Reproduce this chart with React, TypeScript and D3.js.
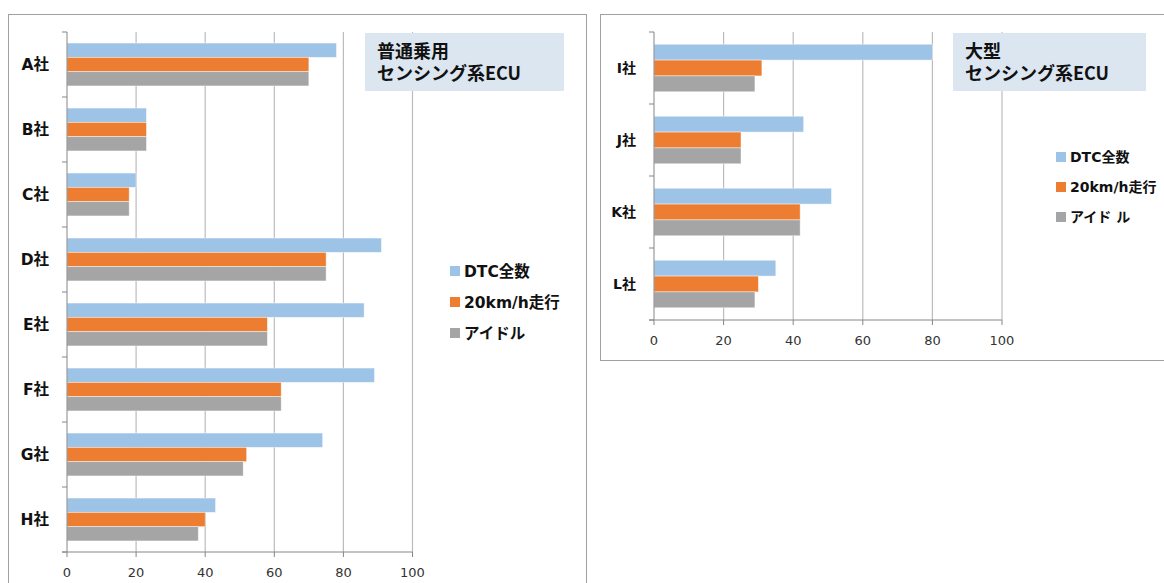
import React from "react";
import * as d3 from "d3";

const seriesNames = ["DTC全数", "20km/h走行", "アイドル"];
const seriesNamesRight = ["DTC全数", "20km/h走行", "アイド ル"];
const colors = ["#9dc3e6", "#ed7d31", "#a5a5a5"];

const leftCompanies = ["A社", "B社", "C社", "D社", "E社", "F社", "G社", "H社"];
const leftDtc = [78, 23, 20, 91, 86, 89, 74, 43];
const leftRun = [70, 23, 18, 75, 58, 62, 52, 40];
const leftIdle = [70, 23, 18, 75, 58, 62, 51, 38];

const rightCompanies = ["I社", "J社", "K社", "L社"];
const rightDtc = [80, 43, 51, 35];
const rightRun = [31, 25, 42, 30];
const rightIdle = [29, 25, 42, 29];

const xTicks = [0, 20, 40, 60, 80, 100];

const latin = "'DejaVu Sans', 'Noto Sans CJK JP', sans-serif";
const cjk = "'Noto Sans CJK JP', 'DejaVu Sans', sans-serif";

interface PanelProps {
  companies: string[];
  values: number[][];
  names: string[];
  frame: { x: number; y: number; w: number; h: number };
  plot: { left: number; right: number; top: number; bottom: number };
  labelSize: number;
  title: string[];
  titleBox: { x: number; y: number; w: number; h: number };
  legend: { x: number; y: number; step: number; size: number; box: number };
}

const Panel: React.FC<PanelProps> = ({ companies, values, names, frame, plot, labelSize, title, titleBox, legend }) => {
  const x = d3.scaleLinear().domain([0, 100]).range([plot.left, plot.right]);
  const y = d3.scaleBand<string>().domain(companies).range([plot.top, plot.bottom]);
  const bw = y.bandwidth();
  const inner = d3.scaleBand<number>().domain(d3.range(names.length)).range([bw * 0.17, bw * 0.83]);
  const bounds = d3.range(companies.length + 1).map((i) => plot.top + i * bw);

  return (
    <g>
      <rect x={frame.x + 0.5} y={frame.y + 0.5} width={frame.w} height={frame.h} fill="#fff" stroke="#a0a0a0" />
      {/* gridlines */}
      {xTicks.slice(1).map((t) => (
        <line key={t} x1={x(t)} x2={x(t)} y1={plot.top} y2={plot.bottom} stroke="#bcbcbc" strokeWidth={1.2} />
      ))}
      {/* title box */}
      <rect x={titleBox.x} y={titleBox.y} width={titleBox.w} height={titleBox.h} fill="#dce6f1" />
      <text x={titleBox.x + 12} y={titleBox.y + 25} fontFamily={cjk} fontWeight="bold" fontSize={18} fill="#111">
        {title.map((t, i) => (
          <tspan key={t} x={titleBox.x + 12} dy={i === 0 ? 0 : 22}>
            {t}
          </tspan>
        ))}
      </text>
      {/* bars */}
      {companies.map((c, ci) => (
        <g key={c} transform={`translate(0,${y(c)})`}>
          {values.map((vals, si) => (
            <rect
              key={si}
              x={x(0)}
              y={inner(si)}
              width={x(vals[ci]) - x(0)}
              height={inner.bandwidth()}
              fill={colors[si]}
              stroke="#ffffff"
              strokeOpacity={0.55}
              strokeWidth={0.8}
            />
          ))}
          <text x={plot.left - 18} y={bw / 2} dy="0.36em" textAnchor="end" fontFamily={latin} fontWeight="bold" fontSize={labelSize} fill="#111">
            {c}
          </text>
        </g>
      ))}
      {/* axes */}
      <line x1={x(0)} x2={x(0)} y1={plot.top} y2={plot.bottom} stroke="#868686" />
      {bounds.map((b, i) => (
        <line key={i} x1={x(0) - 5} x2={x(0)} y1={b} y2={b} stroke="#868686" />
      ))}
      <line x1={x(0) - 5} x2={x(100)} y1={plot.bottom} y2={plot.bottom} stroke="#868686" />
      {xTicks.map((t) => (
        <g key={t}>
          <line x1={x(t)} x2={x(t)} y1={plot.bottom} y2={plot.bottom + 5} stroke="#868686" />
          <text x={x(t)} y={plot.bottom + 25} textAnchor="middle" fontFamily={latin} fontSize={13} fill="#333">
            {t}
          </text>
        </g>
      ))}
      {/* legend */}
      {names.map((n, i) => (
        <g key={n} transform={`translate(${legend.x},${legend.y + i * legend.step})`}>
          <rect x={0} y={-legend.box / 2} width={legend.box} height={legend.box} fill={colors[i]} />
          <text x={legend.box + 4} y={0} dy="0.36em" fontFamily={latin} fontWeight="bold" fontSize={legend.size} fill="#111">
            {n}
          </text>
        </g>
      ))}
    </g>
  );
};

export default function App() {
  return (
    <svg width={1164} height={583} style={{ position: "absolute", left: 0, top: 0, background: "#fff" }}>
      <Panel
        companies={leftCompanies}
        values={[leftDtc, leftRun, leftIdle]}
        names={seriesNames}
        frame={{ x: 8, y: 14, w: 578, h: 600 }}
        plot={{ left: 67, right: 412.5, top: 32, bottom: 552 }}
        labelSize={15.5}
        title={["普通乗用", "センシング系ECU"]}
        titleBox={{ x: 365, y: 33, w: 199, h: 58 }}
        legend={{ x: 450, y: 271, step: 31, size: 15.5, box: 10 }}
      />
      <Panel
        companies={rightCompanies}
        values={[rightDtc, rightRun, rightIdle]}
        names={seriesNamesRight}
        frame={{ x: 600, y: 14, w: 600, h: 346 }}
        plot={{ left: 654, right: 1002, top: 32, bottom: 320 }}
        labelSize={14}
        title={["大型", "センシング系ECU"]}
        titleBox={{ x: 953, y: 33, w: 193, h: 58 }}
        legend={{ x: 1056, y: 157, step: 30, size: 14, box: 10 }}
      />
    </svg>
  );
}
